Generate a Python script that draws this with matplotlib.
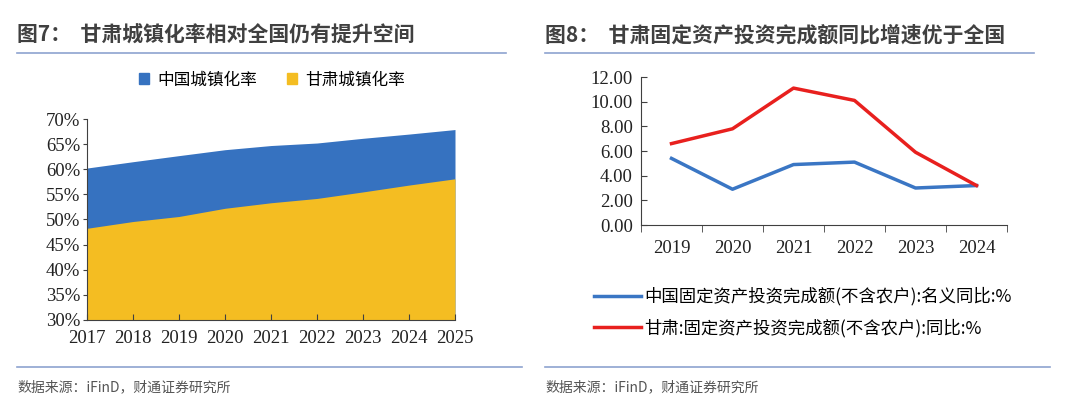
import numpy as np
import matplotlib
matplotlib.use("Agg")
import matplotlib.pyplot as plt
from matplotlib.lines import Line2D
from matplotlib.patches import Patch

plt.rcParams['font.family'] = ['Noto Sans CJK SC', 'DejaVu Sans']

# left chart data: urbanization rate (%)
years_urb = [2017, 2018, 2019, 2020, 2021, 2022, 2023, 2024, 2025]
china_urb = [60.24, 61.50, 62.71, 63.89, 64.72, 65.22, 66.16, 67.00, 67.90]
gansu_urb = [48.25, 49.60, 50.60, 52.23, 53.33, 54.19, 55.49, 56.85, 58.10]

# right chart data: fixed asset investment yoy (%)
years_fai = ['2019', '2020', '2021', '2022', '2023', '2024']
china_fai = [5.4, 2.9, 4.9, 5.1, 3.0, 3.2]
gansu_fai = [6.6, 7.8, 11.1, 10.1, 5.9, 3.2]

W, H = 1080, 405
fig = plt.figure(figsize=(W / 100, H / 100), dpi=100)

def box(x0, y0, x1, y1):
    return [x0 / W, 1 - y1 / H, (x1 - x0) / W, (y1 - y0) / H]

title_col = '#404040'
rule_col = '#8EA3CF'
blue = '#3672C0'
yellow = '#F4BD22'
red = '#E8201E'
serif = ['Liberation Serif', 'DejaVu Serif']

# titles, rules and sources
fig.text(17 / W, 1 - 35 / H, '图7：  甘肃城镇化率相对全国仍有提升空间', fontsize=15,
         fontweight='bold', color=title_col, va='center')
fig.text(545 / W, 1 - 35 / H, '图8：  甘肃固定资产投资完成额同比增速优于全国', fontsize=15,
         fontweight='bold', color=title_col, va='center')
for x0, x1 in [(17, 506), (545, 1034)]:
    fig.add_artist(Line2D([x0 / W, x1 / W], [1 - 53 / H] * 2, color=rule_col, lw=1.2))
for x0, x1 in [(17, 522), (545, 1050)]:
    fig.add_artist(Line2D([x0 / W, x1 / W], [1 - 367 / H] * 2, color=rule_col, lw=1.2))
fig.text(17 / W, 1 - 387 / H, '数据来源：iFinD，财通证券研究所', fontsize=10, color='#555555', va='center')
fig.text(545 / W, 1 - 387 / H, '数据来源：iFinD，财通证券研究所', fontsize=10, color='#555555', va='center')

# left: area chart, national behind Gansu
ax = fig.add_axes(box(87, 119, 455, 320))
ax.fill_between(years_urb, 0, china_urb, color=blue, lw=0)
ax.fill_between(years_urb, 0, gansu_urb, color=yellow, lw=0)
ax.set_xlim(2017, 2025)
ax.set_ylim(30, 70)
ax.set_xticks(years_urb)
ax.set_yticks(range(30, 71, 5))
ax.set_yticklabels([f'{v}%' for v in range(30, 71, 5)])
for s in ['top', 'right']:
    ax.spines[s].set_visible(False)
for s in ['left', 'bottom']:
    ax.spines[s].set_color('#404040')
    ax.spines[s].set_linewidth(0.8)
ax.tick_params(axis='x', direction='in', length=4, color='#404040', pad=7)
ax.tick_params(axis='y', direction='out', length=3, color='#404040', pad=2)
for lab in ax.get_xticklabels() + ax.get_yticklabels():
    lab.set_family(serif)
    lab.set_fontsize(13.5)
    lab.set_color('#222222')
ax.set_axisbelow(False)
fig.legend(handles=[Patch(color=blue, label='中国城镇化率'), Patch(color=yellow, label='甘肃城镇化率')],
           loc='center', bbox_to_anchor=(272 / W, 1 - 80 / H), ncol=2, frameon=False,
           fontsize=12, handlelength=0.6, handleheight=0.6, columnspacing=1.8, handletextpad=0.5)

# right: line chart
ax2 = fig.add_axes(box(641, 77, 1007, 225))
x = np.arange(len(years_fai))
ax2.plot(x, china_fai, color='#3A76C4', lw=2.5)
ax2.plot(x, gansu_fai, color=red, lw=2.5)
ax2.set_xlim(-0.5, len(years_fai) - 0.5)
ax2.set_ylim(0, 12)
ax2.set_yticks(range(0, 13, 2))
ax2.set_yticklabels([f'{v:.2f}' for v in range(0, 13, 2)])
ax2.set_xticks(x)
ax2.set_xticklabels(years_fai)
ax2.set_xticks(np.arange(-0.5, len(years_fai)), minor=True)
ax2.tick_params(axis='x', which='major', length=0, pad=11)
ax2.tick_params(axis='x', which='minor', direction='out', length=5, color='#404040')
ax2.tick_params(axis='y', direction='in', length=4, color='#404040', pad=6)
for s in ['top', 'right']:
    ax2.spines[s].set_visible(False)
for s in ['left', 'bottom']:
    ax2.spines[s].set_color('#404040')
    ax2.spines[s].set_linewidth(0.8)
for lab in ax2.get_xticklabels() + ax2.get_yticklabels():
    lab.set_family(serif)
    lab.set_fontsize(13.5)
    lab.set_color('#222222')

fig.legend(handles=[Line2D([], [], color='#3A76C4', lw=2.5, label='中国固定资产投资完成额(不含农户):名义同比:%'),
                    Line2D([], [], color=red, lw=2.5, label='甘肃:固定资产投资完成额(不含农户):同比:%')],
           loc='upper left', bbox_to_anchor=(594 / W, 1 - 287 / H), frameon=False, fontsize=12.5,
           handlelength=2.7, handletextpad=0.2, labelspacing=0.75, borderaxespad=0, borderpad=0)

fig.savefig('out.png', dpi=100)
